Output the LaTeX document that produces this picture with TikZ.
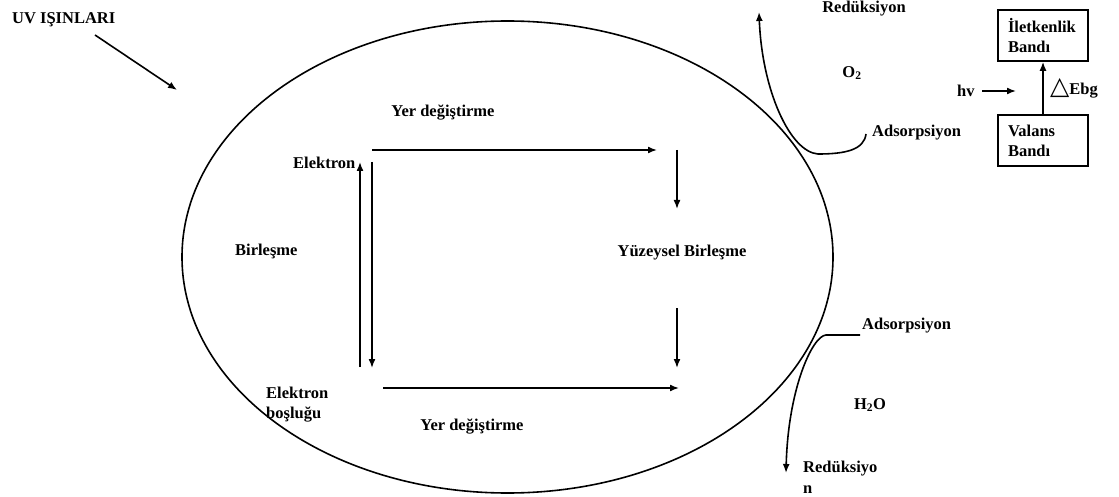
\documentclass[tikz,border=0pt]{standalone}
\usepackage{fontspec}
\setmainfont{Liberation Serif}
\newfontfamily\symfont{DejaVu Sans}
\usetikzlibrary{arrows.meta,shapes.geometric}
\begin{document}
\begin{tikzpicture}[x=1pt,y=-1pt,
  lbl/.style={font=\fontsize{16.5}{20}\selectfont\bfseries, inner sep=0pt, align=left},
  arr/.style={line width=1.6pt,-{Latex[length=9pt,width=7pt]}},
  ln/.style={line width=1.6pt},
  band/.style={draw, line width=1.6pt, font=\fontsize{16.5}{20}\selectfont\bfseries, text width=70pt, align=left, inner xsep=10pt, inner ysep=0pt, minimum height=51pt}]
\useasboundingbox (0,0) rectangle (1119,497);

% particle
\node[draw, ellipse, line width=1.6pt, minimum width=651pt, minimum height=472pt, inner sep=0pt] (cell) at (507.5,257) {};

% UV
\node[lbl, anchor=west] (uv) at (12,20) {UV IŞINLARI};
\coordinate (uvs) at (95,35);
\coordinate (uve) at (177,90);
\draw[arr] (uvs) -- (uve);

% inner labels
\node[lbl] (ydt) at (443,113) {Yer değiştirme};
\node[lbl, anchor=west] (el) at (293,163) {Elektron};
\node[lbl, anchor=west] (bir) at (235,251) {Birleşme};
\node[lbl, anchor=west] (eb) at (266,405) {Elektron\\boşluğu};
\node[lbl] (ydb) at (472,427) {Yer değiştirme};
\node[lbl] (yb) at (682,253) {Yüzeysel Birleşme};

% inner arrows
\coordinate (ta) at (372,150); \coordinate (tb) at (657,150);
\draw[arr] (ta) -- (tb);
\coordinate (ba) at (383,388); \coordinate (bb) at (679,388);
\draw[arr] (ba) -- (bb);
\coordinate (ua) at (360,367); \coordinate (ub) at (360,162);
\draw[arr] (ua) -- (ub);
\coordinate (da) at (372,162); \coordinate (db) at (372,368);
\draw[arr] (da) -- (db);
\coordinate (r1a) at (677,150); \coordinate (r1b) at (677,209);
\draw[arr] (r1a) -- (r1b);
\coordinate (r2a) at (677,308); \coordinate (r2b) at (677,368);
\draw[arr] (r2a) -- (r2b);

% top right: O2
\node[lbl] (red1) at (864,9) {Redüksiyon};
\node[lbl] (o2) at (852,73) {O\textsubscript{2}};
\node[lbl, anchor=west] (ads1) at (872,133) {Adsorpsiyon};
\coordinate (c1s) at (866,134);
\coordinate (c1e) at (759,12);
\draw[arr] (c1s) .. controls (864,150) and (845,154) .. (818,154)
  .. controls (790,152) and (762,90) .. (c1e);

% bottom right: H2O
\node[lbl, anchor=west] (ads2) at (862,326) {Adsorpsiyon};
\node[lbl] (h2o) at (870,405) {H\textsubscript{2}O};
\node[lbl, anchor=west, font=\fontsize{16.5}{21}\selectfont\bfseries] (red2) at (803,477) {Redüksiyo\\n};
\coordinate (c2s) at (860,335);
\coordinate (c2e) at (786,473);
\draw[arr] (c2s) -- (826,335) .. controls (812,336) and (788,390) .. (c2e);

% band diagram
\node[band] (cb) at (1043,35.5) {İletkenlik\\Bandı};
\node[band] (vb) at (1043,140.5) {Valans\\Bandı};
\draw[arr] (vb.north) -- (cb.south);
\node[lbl, anchor=west] (hv) at (957,91) {hv};
\coordinate (hva) at (982,91); \coordinate (hvb) at (1016,91);
\draw[arr] (hva) -- (hvb);
\node[lbl, anchor=west] (ebg) at (1050,88) {{\symfont\fontsize{25}{25}\selectfont △}Ebg};
\end{tikzpicture}
\end{document}
